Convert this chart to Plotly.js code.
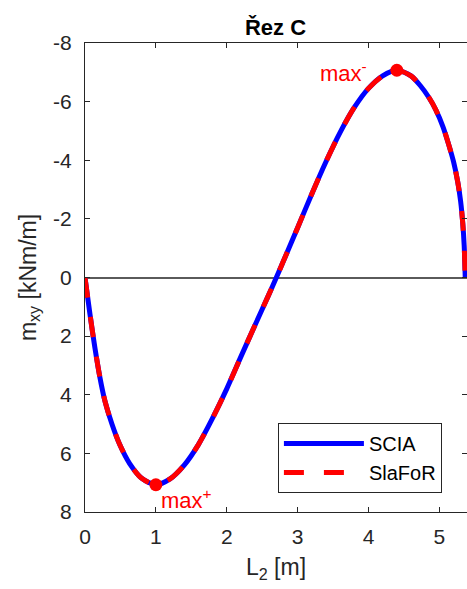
<!DOCTYPE html>
<html>
<head>
<meta charset="utf-8">
<script src="https://cdn.plot.ly/plotly-3.0.1.min.js"></script>
<style>html,body{margin:0;padding:0;background:#fff;}#chart{width:467px;height:589px;}</style>
</head>
<body>
<div id="chart"></div>
<script>
// Data
const L2 = [0, 0.07, 0.14, 0.21, 0.28, 0.38, 0.49, 0.63, 0.8, 1.0, 1.2, 1.4, 1.6, 1.8, 2.0, 2.2, 2.4, 2.6, 2.7, 2.8, 3.0, 3.2, 3.4, 3.6, 3.8, 4.0, 4.2, 4.4, 4.6, 4.73, 4.85, 4.95, 5.05, 5.13, 5.2, 5.26, 5.3, 5.33, 5.35, 5.365];
const mxySCIA = [0, 1.25, 2.4, 3.4, 4.2, 5.0, 5.7, 6.35, 6.85, 7.07, 6.87, 6.4, 5.7, 4.8, 3.8, 2.7, 1.62, 0.55, 0, -0.56, -1.7, -2.85, -3.95, -4.95, -5.8, -6.45, -6.88, -7.07, -6.88, -6.55, -6.15, -5.72, -5.15, -4.55, -3.95, -3.25, -2.6, -1.85, -1.1, 0];
const mxySlaFoR = mxySCIA.slice();
const maxX = [1.0, 4.4];
const maxY = [7.07, -7.07];
const maxLabels = ['max<sup>+</sup>', 'max<sup>-</sup>'];
const yTicks = [-8, -6, -4, -2, 0, 2, 4, 6, 8];
const yTickText = ['-8', '-6', '-4', '-2', '0', '2', '4', '6', '8'];
const xTicks = [0, 1, 2, 3, 4, 5];

const axisColor = '#262626';
const font = 'Liberation Sans, Arial, Helvetica, sans-serif';

const traces = [
  {x: L2, y: mxySCIA, name: 'SCIA', mode: 'lines', type: 'scatter',
   line: {color: '#0000ff', width: 5, shape: 'spline', smoothing: 0.8}},
  {x: L2, y: mxySlaFoR, name: 'SlaFoR', mode: 'lines', type: 'scatter',
   line: {color: '#ff0000', width: 5, dash: '20px,20px', shape: 'spline', smoothing: 0.8}},
  {x: maxX, y: maxY, mode: 'markers', type: 'scatter', showlegend: false,
   marker: {color: '#ff0000', size: 13}}
];

const layout = {
  width: 467, height: 589,
  margin: {l: 85, r: 0, t: 43, b: 77},
  paper_bgcolor: '#fff', plot_bgcolor: '#fff',
  font: {family: font, color: axisColor, size: 21},
  title: {text: '<b>Řez C</b>', font: {family: font, size: 22, color: '#000'},
          x: 0.59, xanchor: 'center', y: 0.954, yanchor: 'middle'},
  xaxis: {range: [0, 5.39], tickvals: xTicks, ticks: 'inside', ticklen: 5, tickcolor: axisColor,
          showline: true, linecolor: axisColor, linewidth: 1, mirror: 'ticks',
          showgrid: false, zeroline: false, automargin: false, ticklabelstandoff: 6,
          tickfont: {size: 21, color: axisColor},
          title: {text: 'L<sub>2</sub> [m]', font: {size: 23, color: axisColor}, standoff: 11}},
  yaxis: {range: [8, -8], tickvals: yTicks, ticktext: yTickText, ticks: 'inside', ticklen: 5,
          tickcolor: axisColor, showline: true, linecolor: axisColor, linewidth: 1, mirror: 'ticks',
          showgrid: false, zeroline: true, zerolinecolor: '#5a5a5a', zerolinewidth: 2, automargin: false,
          ticklabelstandoff: 8,
          tickfont: {size: 21, color: axisColor},
          title: {text: 'm<sub>xy</sub> [kNm/m]', font: {size: 23, color: axisColor}, standoff: 10}},
  showlegend: true,
  legend: {x: 0.505, y: 0.19, xanchor: 'left', yanchor: 'top', bgcolor: '#fff',
           bordercolor: axisColor, borderwidth: 1, font: {size: 20, color: '#000'},
           itemwidth: 80, tracegroupgap: 0},
  annotations: [
    {x: maxX[0], y: maxY[0], text: maxLabels[0], showarrow: false, xanchor: 'left', yanchor: 'top',
     xshift: 3, yshift: 2, font: {size: 22, color: '#ff0000'}},
    {x: maxX[1], y: maxY[1], text: maxLabels[1], showarrow: false, xanchor: 'right', yanchor: 'middle',
     xshift: -28, yshift: -2, font: {size: 22, color: '#ff0000'}}
  ]
};

Plotly.newPlot('chart', traces, layout, {displayModeBar: false, staticPlot: true});
</script>
</body>
</html>
